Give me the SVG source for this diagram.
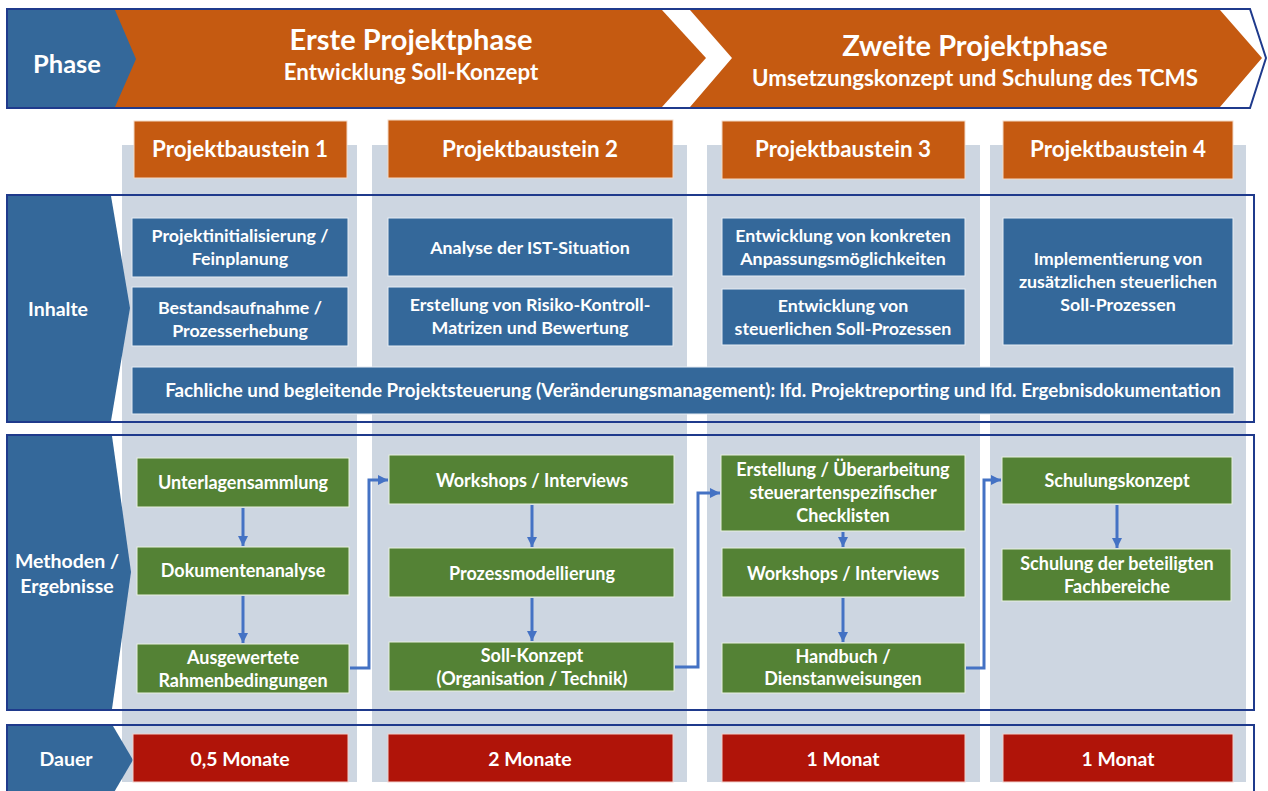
<svg xmlns="http://www.w3.org/2000/svg" width="1268" height="791" viewBox="0 0 1268 791">
<defs>
<style>
text{font-family:Lato,"Open Sans","Liberation Sans",sans-serif;font-weight:700;fill:#FFFFFF;text-anchor:middle}
.bg{fill:#CDD6E1}
.frame{fill:none;stroke:#1F3A8C;stroke-width:2}
.side{fill:#34689A}
.pb{fill:#C55A11;stroke:#F4D9C6;stroke-width:1}
.bl{fill:#34689A;stroke:#E6ECF3;stroke-width:1}
.gr{fill:#548235;stroke:#E8F0E0;stroke-width:1}
.rd{fill:#B01409;stroke:#F2D0CC;stroke-width:1}
.t1{font-size:29px}
.t2{font-size:22.3px}
.tp{font-size:22.4px}
.ts{font-size:19.5px}
.tb{font-size:17.8px}
.tl{font-size:18.8px}
.tg{font-size:18px}
.tr{font-size:19.4px}
.conn{fill:none;stroke:#4472C4;stroke-width:3}
</style>
<marker id="ah" viewBox="0 0 10 10" refX="10" refY="5" markerWidth="10" markerHeight="10" markerUnits="userSpaceOnUse" orient="auto">
<path d="M0,0 L10,5 L0,10 z" fill="#4472C4"/>
</marker>
</defs>
<rect width="1268" height="791" fill="#FFFFFF"/>

<g id="columns">
<rect class="bg" x="122" y="145" width="235" height="637"/>
<rect class="bg" x="372" y="145" width="315" height="637"/>
<rect class="bg" x="707" y="145" width="273" height="637"/>
<rect class="bg" x="990" y="145" width="256" height="637"/>
</g>

<g id="header">
<polygon points="115,10 662,10 706,58 662,107 115,107" fill="#C55A11"/>
<polygon points="690,10 1220,10 1262,58 1220,107 690,107 732,58" fill="#C55A11"/>
<polygon class="side" points="8,10 115,10 136,59 115,107 8,107"/>
<polygon points="7,9 1250,9 1266,58 1250,108 7,108" fill="none" stroke="#1F3A8C" stroke-width="2"/>
<text x="67" y="73" style="font-size:25.5px">Phase</text>
<text class="t1" x="411" y="50">Erste Projektphase</text>
<text class="t2" x="411" y="80">Entwicklung Soll-Konzept</text>
<text class="t1" x="975" y="56">Zweite Projektphase</text>
<text class="t2" x="975" y="86">Umsetzungskonzept und Schulung des TCMS</text>
</g>

<g id="pb1"><rect class="pb" x="134" y="121" width="213" height="57"/><text class="tp" x="240" y="157">Projektbaustein 1</text></g>
<g id="pb2"><rect class="pb" x="388" y="120" width="285" height="58"/><text class="tp" x="530" y="157">Projektbaustein 2</text></g>
<g id="pb3"><rect class="pb" x="722" y="121" width="243" height="58"/><text class="tp" x="843" y="157">Projektbaustein 3</text></g>
<g id="pb4"><rect class="pb" x="1003" y="121" width="230" height="58"/><text class="tp" x="1118" y="157">Projektbaustein 4</text></g>

<g id="inhalte">
<polygon class="side" points="8,196 111,196 130,308 111,421 8,421"/>
<rect class="frame" x="7" y="195" width="1247" height="227"/>
<text class="ts" x="58" y="316">Inhalte</text>
</g>
<g id="in1"><rect class="bl" x="132" y="218" width="216" height="59"/><text class="tb" x="240" y="242">Projektinitialisierung /</text><text class="tb" x="240" y="265">Feinplanung</text></g>
<g id="in2"><rect class="bl" x="132" y="287" width="216" height="59"/><text class="tb" x="240" y="314">Bestandsaufnahme /</text><text class="tb" x="240" y="337">Prozesserhebung</text></g>
<g id="in3"><rect class="bl" x="388" y="218" width="285" height="58"/><text class="tb" x="530" y="254">Analyse der IST-Situation</text></g>
<g id="in4"><rect class="bl" x="388" y="287" width="285" height="59"/><text class="tb" x="530" y="311">Erstellung von Risiko-Kontroll-</text><text class="tb" x="530" y="334">Matrizen und Bewertung</text></g>
<g id="in5"><rect class="bl" x="722" y="218" width="243" height="58"/><text class="tb" x="843" y="242">Entwicklung von konkreten</text><text class="tb" x="843" y="265">Anpassungsmöglichkeiten</text></g>
<g id="in6"><rect class="bl" x="722" y="289" width="243" height="56"/><text class="tb" x="843" y="312">Entwicklung von</text><text class="tb" x="843" y="335">steuerlichen Soll-Prozessen</text></g>
<g id="in7"><rect class="bl" x="1003" y="218" width="230" height="127"/><text class="tb" x="1118" y="265">Implementierung von</text><text class="tb" x="1118" y="288">zusätzlichen steuerlichen</text><text class="tb" x="1118" y="311">Soll-Prozessen</text></g>
<g id="in8"><rect class="bl" x="132" y="367" width="1102" height="47"/><text class="tl" x="693" y="397">Fachliche und begleitende Projektsteuerung (Veränderungsmanagement): lfd. Projektreporting und lfd. Ergebnisdokumentation</text></g>

<g id="methoden">
<polygon class="side" points="8,436 112,436 131,572 112,709 8,709"/>
<rect class="frame" x="7" y="435" width="1247" height="275"/>
<text class="ts" x="67" y="568">Methoden /</text>
<text class="ts" x="67" y="593">Ergebnisse</text>
</g>
<g id="m1"><rect class="gr" x="137" y="458" width="212" height="49"/><text class="tg" x="243" y="489">Unterlagensammlung</text></g>
<g id="m2"><rect class="gr" x="137" y="547" width="212" height="48"/><text class="tg" x="243" y="577">Dokumentenanalyse</text></g>
<g id="m3"><rect class="gr" x="137" y="644" width="212" height="49"/><text class="tg" x="243" y="664">Ausgewertete</text><text class="tg" x="243" y="687">Rahmenbedingungen</text></g>
<g id="m4"><rect class="gr" x="389" y="455" width="285" height="49"/><text class="tg" x="532" y="487">Workshops / Interviews</text></g>
<g id="m5"><rect class="gr" x="389" y="548" width="285" height="49"/><text class="tg" x="532" y="580">Prozessmodellierung</text></g>
<g id="m6"><rect class="gr" x="389" y="642" width="285" height="49"/><text class="tg" x="532" y="662">Soll-Konzept</text><text class="tg" x="532" y="685">(Organisation / Technik)</text></g>
<g id="m7"><rect class="gr" x="721" y="455" width="244" height="76"/><text class="tg" x="843" y="476">Erstellung / Überarbeitung</text><text class="tg" x="843" y="499">steuerartenspezifischer</text><text class="tg" x="843" y="522">Checklisten</text></g>
<g id="m8"><rect class="gr" x="722" y="548" width="243" height="49"/><text class="tg" x="843" y="580">Workshops / Interviews</text></g>
<g id="m9"><rect class="gr" x="722" y="643" width="243" height="50"/><text class="tg" x="843" y="663">Handbuch /</text><text class="tg" x="843" y="685">Dienstanweisungen</text></g>
<g id="m10"><rect class="gr" x="1002" y="457" width="230" height="47"/><text class="tg" x="1117" y="487">Schulungskonzept</text></g>
<g id="m11"><rect class="gr" x="1002" y="549" width="229" height="52"/><text class="tg" x="1117" y="570">Schulung der beteiligten</text><text class="tg" x="1117" y="593">Fachbereiche</text></g>

<g id="connectors">
<path class="conn" d="M243,508 V546" marker-end="url(#ah)"/>
<path class="conn" d="M243,596 V643" marker-end="url(#ah)"/>
<path class="conn" d="M350,668 H369 V480 H388" marker-end="url(#ah)"/>
<path class="conn" d="M532,505 V547" marker-end="url(#ah)"/>
<path class="conn" d="M532,598 V641" marker-end="url(#ah)"/>
<path class="conn" d="M675,667 H698 V493 H720" marker-end="url(#ah)"/>
<path class="conn" d="M843,532 V547" marker-end="url(#ah)"/>
<path class="conn" d="M843,598 V642" marker-end="url(#ah)"/>
<path class="conn" d="M966,668 H984 V480 H1001" marker-end="url(#ah)"/>
<path class="conn" d="M1117,505 V548" marker-end="url(#ah)"/>
</g>

<g id="dauer">
<polygon class="side" points="8,726 113,726 133,760 113,794 8,794"/>
<rect class="frame" x="7" y="725" width="1247" height="80"/>
<text class="ts" x="66" y="766">Dauer</text>
</g>
<g id="d1"><rect class="rd" x="133" y="734" width="215" height="48"/><text class="tr" x="240" y="766">0,5 Monate</text></g>
<g id="d2"><rect class="rd" x="388" y="734" width="285" height="48"/><text class="tr" x="530" y="766">2 Monate</text></g>
<g id="d3"><rect class="rd" x="722" y="734" width="243" height="48"/><text class="tr" x="843" y="766">1 Monat</text></g>
<g id="d4"><rect class="rd" x="1003" y="734" width="230" height="48"/><text class="tr" x="1118" y="766">1 Monat</text></g>
</svg>
